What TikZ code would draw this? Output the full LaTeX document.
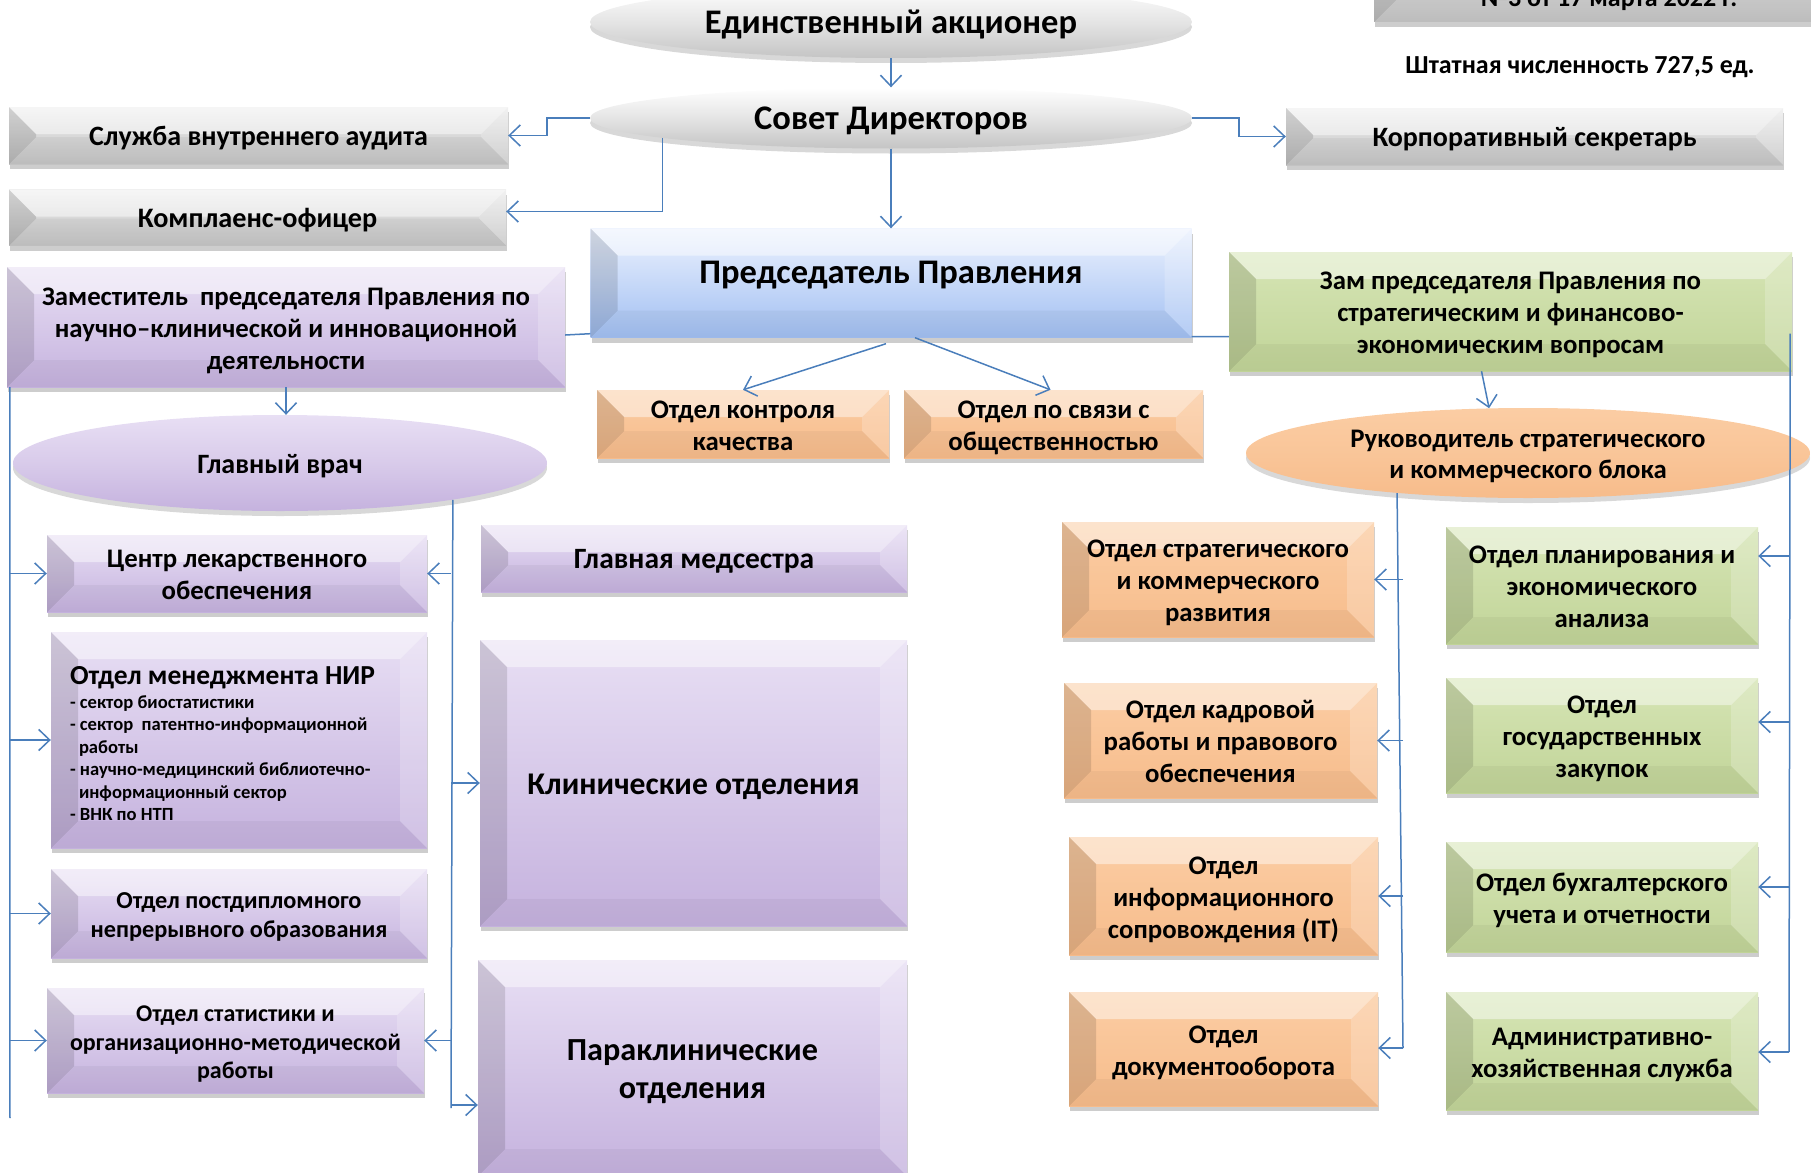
\documentclass[tikz,border=0pt]{standalone}
\usepackage{fontspec}
\setmainfont{Carlito}
\usetikzlibrary{shadows,arrows.meta,calc,shapes.geometric}

\definecolor{cn}{HTML}{4A7EBB}
\definecolor{grayB}{HTML}{C4C4C4}\definecolor{grayL}{HTML}{EEEEEE}
\definecolor{purB}{HTML}{C5B2DE}\definecolor{purL}{HTML}{E8DFF4}
\definecolor{orB}{HTML}{F7BC8B}\definecolor{orL}{HTML}{FBCDA4}
\definecolor{grB}{HTML}{C1D498}\definecolor{grL}{HTML}{D6E5B5}
\definecolor{blB}{HTML}{A1BFF2}\definecolor{blL}{HTML}{ECF2FE}

\newcommand\tx[2][-4pt]{\raisebox{#1}[\height][\depth]{\begin{tabular}{@{}c@{}}#2\end{tabular}}}

\tikzset{
  bevel/.style 2 args={rectangle, inner sep=0pt, draw=none,
    top color=#2, bottom color=#1,
    drop shadow={shadow xshift=1pt, shadow yshift=-5pt, opacity=0.28, fill=black!70},
    align=center,
    path picture={
      \fill[white,opacity=0.45] (path picture bounding box.north west) -- (path picture bounding box.north east)
        -- ([xshift=-27pt,yshift=-27pt]path picture bounding box.north east)
        -- ([xshift=27pt,yshift=-27pt]path picture bounding box.north west) -- cycle;
      \fill[white,opacity=0.2] (path picture bounding box.north east) -- (path picture bounding box.south east)
        -- ([xshift=-27pt,yshift=27pt]path picture bounding box.south east)
        -- ([xshift=-27pt,yshift=-27pt]path picture bounding box.north east) -- cycle;
      \fill[black,opacity=0.04] (path picture bounding box.south west) -- (path picture bounding box.south east)
        -- ([xshift=-27pt,yshift=27pt]path picture bounding box.south east)
        -- ([xshift=27pt,yshift=27pt]path picture bounding box.south west) -- cycle;
      \fill[black,opacity=0.12] (path picture bounding box.north west) -- (path picture bounding box.south west)
        -- ([xshift=27pt,yshift=27pt]path picture bounding box.south west)
        -- ([xshift=27pt,yshift=-27pt]path picture bounding box.north west) -- cycle;
    }},
  bgray/.style={bevel={grayB}{grayL}},
  bpur/.style={bevel={purB}{purL}},
  bor/.style={bevel={orB}{orL}},
  bgr/.style={bevel={grB}{grL}},
  bblue/.style={bevel={blB}{blL}},
  oval/.style 2 args={ellipse, inner sep=0pt, draw=none, align=center,
    top color=#2, bottom color=#1, middle color=#2!55!#1,
    drop shadow={shadow xshift=0pt, shadow yshift=-5pt, opacity=0.22, fill=black!70}},
  f24/.style={font=\bfseries\fontsize{26.8}{32}\selectfont},
  cnx/.style={draw=cn, line width=1.5pt},
  arr/.style={cnx, -{Straight Barb[length=11pt,width=21pt]}},
}

\begin{document}
\begin{tikzpicture}[x=1pt, y=-1pt]
\useasboundingbox (0,0) rectangle (1811,1172);
\clip (0,0) rectangle (1811,1172);

% top right
\node[bgray, minimum width=476pt, minimum height=82pt] (ord) at (1612,-19) {};
\node[anchor=base, font=\bfseries\fontsize{26}{30}\selectfont] (ordt) at (1609,7) {№3 от 17 марта 2022 г.};
\node[anchor=base, font=\bfseries\fontsize{26}{30}\selectfont] (shtat) at (1580,74) {Штатная численность 727,5 ед.};

% top ellipses
\node[oval={grayB}{white}, minimum width=602pt, minimum height=72pt, font=\bfseries\fontsize{34.5}{38}\selectfont] (ea) at (891,22) {\tx{Единственный акционер}};
\node[oval={grayB}{white}, minimum width=602pt, minimum height=61pt, font=\bfseries\fontsize{34.5}{38}\selectfont] (sd) at (891,118) {\tx{Совет Директоров}};

\node[bgray, minimum width=499pt, minimum height=57pt, font=\bfseries\fontsize{28}{32}\selectfont] (audit) at (258.5,135.5) {\tx{Служба внутреннего аудита}};
\node[bgray, minimum width=497pt, minimum height=56pt, font=\bfseries\fontsize{28.2}{32}\selectfont] (komp) at (257.5,217.5) {\tx{Комплаенс-офицер}};
\node[bgray, minimum width=497pt, minimum height=57pt, font=\bfseries\fontsize{28}{32}\selectfont] (corp) at (1534.5,136.5) {\tx{Корпоративный секретарь}};

\node[bblue, minimum width=601pt, minimum height=109pt, font=\bfseries\fontsize{34.5}{38}\selectfont] (pred) at (891,283) {\tx[7pt]{Председатель Правления}};

\node[bpur, minimum width=558pt, minimum height=120pt, f24] (zamL) at (286,327) {\tx{Заместитель~ председателя Правления по\\научно–клинической и инновационной\\деятельности}};
\node[bgr, minimum width=563pt, minimum height=119pt, f24] (zamR) at (1510.5,311.5) {\tx{Зам председателя Правления по\\стратегическим и финансово-\\экономическим вопросам}};

\node[bor, minimum width=292pt, minimum height=68pt, f24] (ctrl) at (743,424) {\tx{Отдел контроля\\качества}};
\node[bor, minimum width=299pt, minimum height=68pt, f24] (svz) at (1053.5,424) {\tx{Отдел по связи с\\общественностью}};

\node[oval={purB}{purL}, minimum width=534pt, minimum height=96pt, font=\bfseries\fontsize{28}{32}\selectfont] (gv) at (280,463) {\tx{Главный врач}};
\node[oval={orB}{orL}, minimum width=564pt, minimum height=90pt, font=\bfseries\fontsize{26.8}{31}\selectfont] (ruk) at (1528,453) {\tx{Руководитель стратегического\\и коммерческого блока}};

% left column
\node[bpur, minimum width=380pt, minimum height=77pt, f24] (cld) at (237,573.5) {\tx{Центр лекарственного\\обеспечения}};
\node[bpur, minimum width=376pt, minimum height=216pt, font=\bfseries] (nir) at (239,740)
 {\raisebox{-4pt}[\height][\depth]{\parbox{338pt}{\raggedright
  \fontsize{27.5}{30}\selectfont Отдел менеджмента НИР\par\vspace{1pt}%
  \fontsize{18.6}{22.5}\selectfont - сектор биостатистики\par
  - сектор~ патентно-информационной\\\hspace*{9pt}работы\par
  - научно-медицинский библиотечно-\\\hspace*{9pt}информационный сектор\par
  - ВНК по НТП\par}}};
\node[bpur, minimum width=376pt, minimum height=89pt, font=\bfseries\fontsize{24.3}{29}\selectfont] (pdo) at (239,913.5) {\tx{Отдел постдипломного\\непрерывного образования}};
\node[bpur, minimum width=377pt, minimum height=105pt, font=\bfseries\fontsize{24}{28.5}\selectfont] (stat) at (235.5,1040.5) {\tx{Отдел статистики и\\организационно-методической\\работы}};

\node[bpur, minimum width=426pt, minimum height=67pt, font=\bfseries\fontsize{29.5}{32}\selectfont] (med) at (694,558.5) {\tx{Главная медсестра}};
\node[bpur, minimum width=427pt, minimum height=286pt, font=\bfseries\fontsize{31.6}{36}\selectfont] (klin) at (693.5,783) {\tx{Клинические отделения}};
\node[bpur, minimum width=429pt, minimum height=216pt, font=\bfseries\fontsize{32.2}{38}\selectfont] (para) at (692.5,1068) {\tx{Параклинические\\отделения}};

% right orange column
\node[bor, minimum width=312pt, minimum height=115pt, f24] (osk) at (1218,579.5) {\tx{Отдел стратегического\\и коммерческого\\развития}};
\node[bor, minimum width=313pt, minimum height=115pt, f24] (okr) at (1220.5,740.5) {\tx{Отдел кадровой\\работы и правового\\обеспечения}};
\node[bor, minimum width=309pt, minimum height=118pt, f24] (oit) at (1223.5,896) {\tx{Отдел\\информационного\\сопровождения (IT)}};
\node[bor, minimum width=309pt, minimum height=114pt, f24] (odo) at (1223.5,1049) {\tx{Отдел\\документооборота}};

% right green column
\node[bgr, minimum width=312pt, minimum height=117pt, f24] (plan) at (1602,585.5) {\tx{Отдел планирования и\\экономического\\анализа}};
\node[bgr, minimum width=312pt, minimum height=115pt, f24] (gz) at (1602,735.5) {\tx{Отдел\\государственных\\закупок}};
\node[bgr, minimum width=312pt, minimum height=110pt, f24] (buh) at (1602,897) {\tx{Отдел бухгалтерского\\учета и отчетности}};
\node[bgr, minimum width=312pt, minimum height=118pt, f24] (ahs) at (1602,1051) {\tx{Административно-\\хозяйственная служба}};

% connectors
\draw[arr] (ea.south) -- (sd.north);
\draw[arr] (sd.west) -- ++(-43,0) |- (audit.east);
\draw[arr] (sd.185.8) |- ([yshift=6pt]komp.east);
\draw[arr] (sd.south) -- (pred.north);
\draw[arr] (sd.east) -- ++(47,0) |- (corp.west);

\draw[cnx] ([yshift=4pt]pred.south west) -- ([yshift=-8pt]zamL.east);
\draw[cnx] ([yshift=1pt]pred.south east) -- ([yshift=-25pt]zamR.west);
\draw[arr] ([xshift=-5pt,yshift=-6pt]pred.south) -- (ctrl.north);
\draw[arr] ([xshift=24pt]pred.south) -- ([xshift=-3pt]svz.north);

\draw[arr] (zamL.south) -- (zamL.south |- gv.north);

% left bus
\coordinate (Ltop) at ([xshift=3pt]zamL.south west);
\coordinate (Lend) at (10,1118);
\draw[cnx] (Ltop) -- (Lend);
\draw[arr] (Lend |- cld.west) -- (cld.west);
\draw[arr] (Lend |- nir.west) -- (nir.west);
\draw[arr] (Lend |- pdo.west) -- (pdo.west);
\draw[arr] (Lend |- stat.west) -- (stat.west);

% chief doctor bus
\coordinate (Gtop) at (gv.-12.2);
\coordinate (Gend) at (451,1108);
\draw[cnx] (Gtop) -- (Gend);
\draw[arr] (Gend |- cld.east) -- (cld.east);
\draw[arr] (Gend |- klin.west) -- (klin.west);
\draw[arr] (Gend |- stat.east) -- (stat.east);
\draw[arr] ([yshift=3pt]Gend) -- ([yshift=3pt]Gend -| para.west);

% right side
\draw[arr] ([xshift=-29pt]zamR.south) -- (ruk.131);
\coordinate (Rtop) at ([xshift=-2pt,yshift=-22pt]zamR.east);
\coordinate (Rend) at (1789,1052);
\draw[cnx] (Rtop) -- (Rend);
\draw[arr] (Rend |- 0,556) -- (plan.east |- 0,556);
\draw[arr] (Rend |- 0,722) -- (gz.east |- 0,722);
\draw[arr] (Rend |- 0,887) -- (buh.east |- 0,887);
\draw[arr] (Rend) -- (Rend -| ahs.east);

\coordinate (Ktop) at (ruk.197.9);
\coordinate (Kend) at (1403,1048);
\draw[cnx] (Ktop) -- (Kend);
\draw[arr] (Kend |- osk.east) -- (osk.east);
\draw[arr] (Kend |- okr.east) -- (okr.east);
\draw[arr] (Kend |- oit.east) -- (oit.east);
\draw[arr] (Kend) -- (Kend -| odo.east);
\end{tikzpicture}
\end{document}
